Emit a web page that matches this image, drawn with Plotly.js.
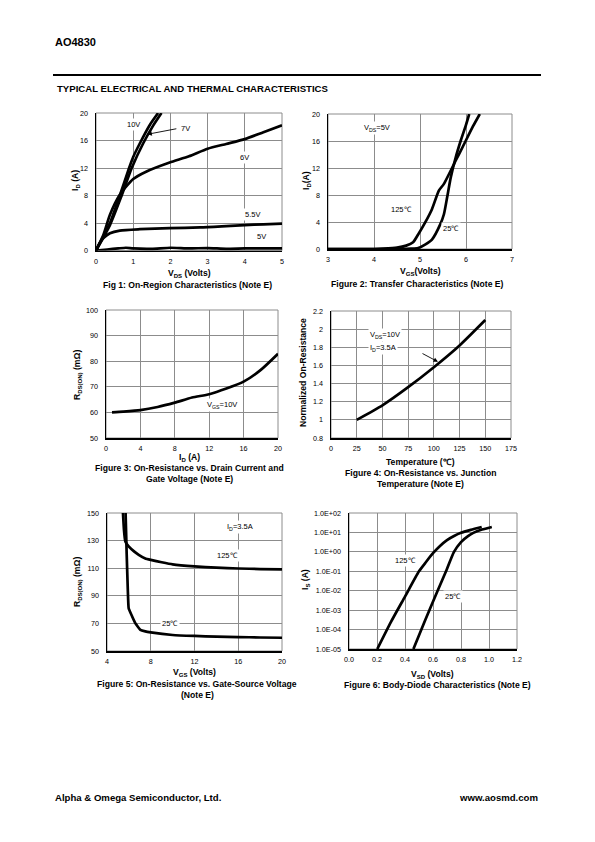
<!DOCTYPE html>
<html><head><meta charset="utf-8">
<script src="https://cdn.plot.ly/plotly-3.0.1.min.js"></script>
<style>html,body{margin:0;padding:0;background:#fff}#chart{width:595px;height:842px}</style>
</head><body><div id="chart"></div>
<script>
// ---------- Fig 1: On-region characteristics ----------
const f1_vds_10V = [0, 0.375, 0.64, 0.89, 1.0, 1.18, 1.45, 1.67];
const f1_id_10V  = [0, 4, 8, 12, 13.6, 15.6, 18.3, 20];
const f1_vds_7V  = [0, 0.375, 0.69, 0.96, 1.27, 1.54, 1.76];
const f1_id_7V   = [0, 3.7, 8, 12, 15.6, 18.2, 20];
const f1_vds_6V  = [0, 0.2, 0.375, 0.64, 1.0, 1.36, 1.98, 2.5, 3.0, 3.5, 4.0, 4.5, 5.0];
const f1_id_6V   = [0, 2.3, 5.2, 8.1, 10.4, 11.5, 12.8, 13.7, 14.8, 15.5, 16.2, 17.2, 18.2];
const f1_vds_55V = [0, 0.1, 0.2, 0.375, 0.64, 1.18, 1.98, 2.8, 3.5, 4.0, 4.5, 5.0];
const f1_id_55V  = [0, 1.1, 1.8, 2.5, 2.9, 3.1, 3.25, 3.35, 3.55, 3.7, 3.8, 3.9];
const f1_vds_5V  = [0, 0.3, 0.6, 0.8, 1.0, 1.5, 2.0, 2.5, 3.0, 3.5, 4.0, 4.5, 5.0];
const f1_id_5V   = [0, 0.15, 0.3, 0.4, 0.3, 0.25, 0.4, 0.3, 0.35, 0.25, 0.3, 0.3, 0.3];
const f1_xticks = [0, 1, 2, 3, 4, 5];
const f1_yticks = [0, 4, 8, 12, 16, 20];

// ---------- Fig 2: Transfer characteristics ----------
const f2_vgs_125 = [3.0, 4.0, 4.2, 4.5, 4.7, 4.85, 4.96, 5.11, 5.26, 5.41, 5.52, 5.78, 5.93, 6.15, 6.3];
const f2_id_125  = [0, 0, 0.05, 0.2, 0.5, 1.0, 2.15, 3.9, 5.9, 8.65, 9.65, 13.15, 15.15, 18.15, 20];
const f2_vgs_25  = [3.0, 4.6, 4.8, 4.96, 5.11, 5.26, 5.44, 5.52, 5.59, 5.67, 5.78, 5.89, 6.0, 6.07];
const f2_id_25   = [0, 0, 0.05, 0.15, 0.65, 1.4, 3.65, 5.15, 7.65, 10.65, 13.65, 16.15, 18.4, 20];
const f2_xticks = [3, 4, 5, 6, 7];
const f2_yticks = [0, 4, 8, 12, 16, 20];

// ---------- Fig 3: On-resistance vs drain current ----------
const f3_id   = [0.7, 2, 4, 6, 8, 10, 12, 14, 16, 18, 20];
const f3_rds  = [60, 60.3, 60.9, 62.1, 63.8, 65.8, 67.1, 69.3, 72, 76.6, 82.9];
const f3_xticks = [0, 4, 8, 12, 16, 20];
const f3_yticks = [50, 60, 70, 80, 90, 100];

// ---------- Fig 4: Normalized on-resistance vs temperature ----------
const f4_temp = [25, 50, 75, 100, 125, 150];
const f4_rn   = [1.0, 1.16, 1.36, 1.58, 1.82, 2.1];
const f4_xticks = [0, 25, 50, 75, 100, 125, 150, 175];
const f4_yticks = [0.8, 1, 1.2, 1.4, 1.6, 1.8, 2, 2.2];

// ---------- Fig 5: On-resistance vs gate-source voltage ----------
const f5_vgs_125 = [5.46, 5.55, 5.68, 5.98, 6.5, 6.9, 7.5, 8, 9, 10, 12, 14, 16, 18, 20];
const f5_rds_125 = [150, 138, 129.4, 125.8, 122, 119.7, 117, 116, 114.3, 112.8, 111.3, 110.4, 109.8, 109.4, 109.2];
const f5_vgs_25  = [5.7, 5.8, 5.9, 5.98, 6.3, 6.6, 7.05, 7.5, 8, 10, 12, 14, 16, 18, 20];
const f5_rds_25  = [150, 120, 95, 81, 75, 70, 65.3, 64.2, 63.5, 61.6, 60.9, 60.4, 60.1, 59.8, 59.6];
const f5_xticks = [4, 8, 12, 16, 20];
const f5_yticks = [50, 70, 90, 110, 130, 150];

// ---------- Fig 6: Body-diode characteristics ----------
const f6_vsd_125 = [0.202, 0.3, 0.4, 0.5, 0.55, 0.6, 0.65, 0.7, 0.75, 0.8, 0.87, 0.948];
const f6_is_125  = [1e-5, 2.5e-4, 5e-3, 0.1, 0.3, 0.85, 2.0, 4.0, 6.5, 9.5, 13.5, 19];
const f6_vsd_25  = [0.46, 0.517, 0.574, 0.633, 0.693, 0.75, 0.8, 0.85, 0.888, 0.95, 1.02];
const f6_is_25   = [1e-5, 1e-4, 1e-3, 1e-2, 0.1, 1.0, 3.2, 6.5, 9.5, 14, 19];
const f6_xticks = [0, 0.2, 0.4, 0.6, 0.8, 1.0, 1.2];
const f6_yticks = [1e-5, 1e-4, 1e-3, 1e-2, 1e-1, 1, 10, 100];
const f6_ytext  = ['1.0E-05', '1.0E-04', '1.0E-03', '1.0E-02', '1.0E-01', '1.0E+00', '1.0E+01', '1.0E+02'];

// ---------- Layout helpers ----------
const W = 595, H = 842;
const FONT = 'Liberation Sans, Arial, sans-serif';
const px = x => x / W;
const py = y => 1 - y / H;

// plot area boxes in pixels [left, right, top, bottom]
const boxes = [
  [96, 282, 113, 250.5],
  [328, 512, 114, 249],
  [106, 278, 310, 438],
  [331, 511, 311, 438],
  [107, 282, 513, 651],
  [349, 517, 513, 649]
];

const traces = [];
function line(xs, ys, n, shape, smooth) {
  traces.push({
    x: xs, y: ys, xaxis: n === 1 ? 'x' : 'x' + n, yaxis: n === 1 ? 'y' : 'y' + n,
    mode: 'lines', type: 'scatter', showlegend: false, hoverinfo: 'skip',
    line: {color: '#000', width: 2.7, shape: shape || 'spline', smoothing: smooth === undefined ? 0.6 : smooth}
  });
}
line(f1_vds_10V, f1_id_10V, 1);
line(f1_vds_7V, f1_id_7V, 1);
line(f1_vds_6V, f1_id_6V, 1);
line(f1_vds_55V, f1_id_55V, 1);
line(f1_vds_5V, f1_id_5V, 1, 'spline', 0.4);
line(f2_vgs_125, f2_id_125, 2);
line(f2_vgs_25, f2_id_25, 2);
line(f3_id, f3_rds, 3);
line(f4_temp, f4_rn, 4);
line(f5_vgs_125, f5_rds_125, 5, 'spline', 0.3);
line(f5_vgs_25, f5_rds_25, 5, 'spline', 0.3);
line(f6_vsd_125, f6_is_125, 6);
line(f6_vsd_25, f6_is_25, 6);

const layout = {
  width: W, height: H, margin: {l: 0, r: 0, t: 0, b: 0},
  paper_bgcolor: '#fff', plot_bgcolor: '#fff',
  font: {family: FONT, size: 7, color: '#000'},
  showlegend: false, annotations: [], shapes: []
};

const axisCfg = [
  {xr: [0, 5], xt: f1_xticks, yr: [0, 20], yt: f1_yticks},
  {xr: [3, 7], xt: f2_xticks, yr: [0, 20], yt: f2_yticks},
  {xr: [0, 20], xt: f3_xticks, yr: [50, 100], yt: f3_yticks},
  {xr: [0, 175], xt: f4_xticks, yr: [0.8, 2.2], yt: f4_yticks},
  {xr: [4, 20], xt: f5_xticks, yr: [50, 150], yt: f5_yticks},
  {xr: [0, 1.2], xt: f6_xticks, yr: [-5, 2], yt: f6_yticks, ytext: f6_ytext, ylog: true, xfmt: '.1f'}
];

axisCfg.forEach((c, i) => {
  const n = i + 1, b = boxes[i];
  const xk = n === 1 ? 'xaxis' : 'xaxis' + n;
  const yk = n === 1 ? 'yaxis' : 'yaxis' + n;
  const common = {showgrid: true, gridcolor: '#8c8c8c', gridwidth: 1, zeroline: false,
    showline: true, linecolor: '#000', linewidth: 1.5, ticks: '', fixedrange: true,
    tickfont: {family: FONT, size: 7.2, color: '#000'}};
  layout[xk] = Object.assign({}, common, {
    domain: [px(b[0]), px(b[1])], anchor: n === 1 ? 'y' : 'y' + n,
    range: c.xr, tickvals: c.xt, tickformat: c.xfmt || '', ticklabelstandoff: 3
  });
  layout[yk] = Object.assign({}, common, {
    domain: [py(b[3]), py(b[2])], anchor: n === 1 ? 'x' : 'x' + n,
    range: c.yr, tickvals: c.yt, ticklabelstandoff: 5
  });
  if (c.ylog) { layout[yk].type = 'log'; layout[yk].ticktext = c.ytext; }
  // gray frame on top/right
  layout.shapes.push({type: 'rect', xref: 'paper', yref: 'paper', layer: 'below',
    x0: px(b[0]), x1: px(b[1]), y0: py(b[3]), y1: py(b[2]), line: {color: '#8c8c8c', width: 1}});
});

function A(text, x, y, o) {
  o = o || {};
  layout.annotations.push(Object.assign({
    text: text, xref: 'paper', yref: 'paper', x: px(x), y: py(y), showarrow: false,
    xanchor: 'center', yanchor: 'middle',
    font: {family: FONT, size: o.size || 8.6, color: '#000', weight: o.bold === false ? 'normal' : 'bold'}
  }, o.extra || {}));
}
function D(text, n, x, y, o) {
  o = o || {};
  layout.annotations.push(Object.assign({
    text: text, xref: n === 1 ? 'x' : 'x' + n, yref: n === 1 ? 'y' : 'y' + n, x: x, y: y,
    showarrow: false, xanchor: o.xanchor || 'center', yanchor: 'middle', bgcolor: '#fff',
    borderpad: 1, font: {family: FONT, size: 7.5, color: '#000'}
  }, o.extra || {}));
}
function ARROW(n, x, y, ax, ay) {
  layout.annotations.push({text: '', xref: n === 1 ? 'x' : 'x' + n, yref: n === 1 ? 'y' : 'y' + n,
    axref: n === 1 ? 'x' : 'x' + n, ayref: n === 1 ? 'y' : 'y' + n,
    x: x, y: y, ax: ax, ay: ay, showarrow: true, arrowhead: 2, arrowsize: 1, arrowwidth: 0.9, arrowcolor: '#000'});
}

const CAP = 8.6;
// page header / footer
A('AO4830', 53, 42, {size: 11, extra: {xanchor: 'left'}});
layout.shapes.push({type: 'line', xref: 'paper', yref: 'paper', x0: px(53), x1: px(541), y0: py(75), y1: py(75), line: {color: '#000', width: 2}});
A('TYPICAL ELECTRICAL AND THERMAL CHARACTERISTICS', 55, 88, {size: 9.6, extra: {xanchor: 'left'}});
A('Alpha &amp; Omega Semiconductor, Ltd.', 53, 797, {size: 9.6, extra: {xanchor: 'left'}});
A('www.aosmd.com', 540, 797, {size: 9.6, extra: {xanchor: 'right'}});

// Fig 1 texts
A('V<sub>DS</sub> (Volts)', 189, 273);
A('Fig 1: On-Region Characteristics (Note E)', 187, 285, {size: CAP});
A('I<sub>D</sub> (A)', 76, 181, {extra: {textangle: -90}});
D('10V', 1, 1.0, 18.4);
D('7V', 1, 2.4, 17.7);
ARROW(1, 1.38, 16.9, 2.2, 17.75);
D('6V', 1, 3.98, 13.6);
D('5.5V', 1, 4.22, 5.2);
D('5V', 1, 4.46, 2.0);

// Fig 2 texts
A('V<sub>GS</sub>(Volts)', 420, 272);
A('Figure 2: Transfer Characteristics (Note E)', 418, 284, {size: CAP});
A('I<sub>D</sub>(A)', 307, 181, {extra: {textangle: -90}});
D('V<sub>DS</sub>=5V', 2, 4.06, 17.9);
D('125℃', 2, 4.6, 5.8);
D('25℃', 2, 5.67, 3.0);

// Fig 3 texts
A('I<sub>D</sub> (A)', 190, 457);
A('Figure 3: On-Resistance vs. Drain Current and', 190, 468, {size: CAP});
A('Gate Voltage (Note E)', 190, 479, {size: CAP});
A('R<sub>DS(ON)</sub> (mΩ)', 77, 375, {extra: {textangle: -90}});
D('V<sub>GS</sub>=10V', 3, 13.5, 63);

// Fig 4 texts
A('Temperature (℃)', 420, 462);
A('Figure 4: On-Resistance vs. Junction', 420, 473, {size: CAP});
A('Temperature (Note E)', 420, 484, {size: CAP});
A('Normalized On-Resistance', 303, 373, {extra: {textangle: -90}});
D('V<sub>DS</sub>=10V', 4, 36, 1.93, {xanchor: 'left'});
D('I<sub>D</sub>=3.5A', 4, 36, 1.79, {xanchor: 'left'});
ARROW(4, 104, 1.64, 87.5, 1.74);

// Fig 5 texts
A('V<sub>GS</sub> (Volts)', 194, 672);
A('Figure 5: On-Resistance vs. Gate-Source Voltage', 197, 684, {size: CAP});
A('(Note E)', 197, 695, {size: CAP});
A('R<sub>DS(ON)</sub> (mΩ)', 77, 582, {extra: {textangle: -90}});
D('I<sub>D</sub>=3.5A', 5, 16.2, 140);
D('125℃', 5, 15.0, 119);
D('25℃', 5, 9.8, 69.6);

// Fig 6 texts
A('V<sub>SD</sub> (Volts)', 432, 674);
A('Figure 6: Body-Diode Characteristics (Note E)', 437, 685, {size: CAP});
A('I<sub>S</sub> (A)', 305, 580, {extra: {textangle: -90}});
D('125℃', 6, 0.40, Math.log10(0.36));
D('25℃', 6, 0.745, Math.log10(5.1e-3));

Plotly.newPlot('chart', traces, layout, {staticPlot: true, displayModeBar: false});
</script>
</body></html>
